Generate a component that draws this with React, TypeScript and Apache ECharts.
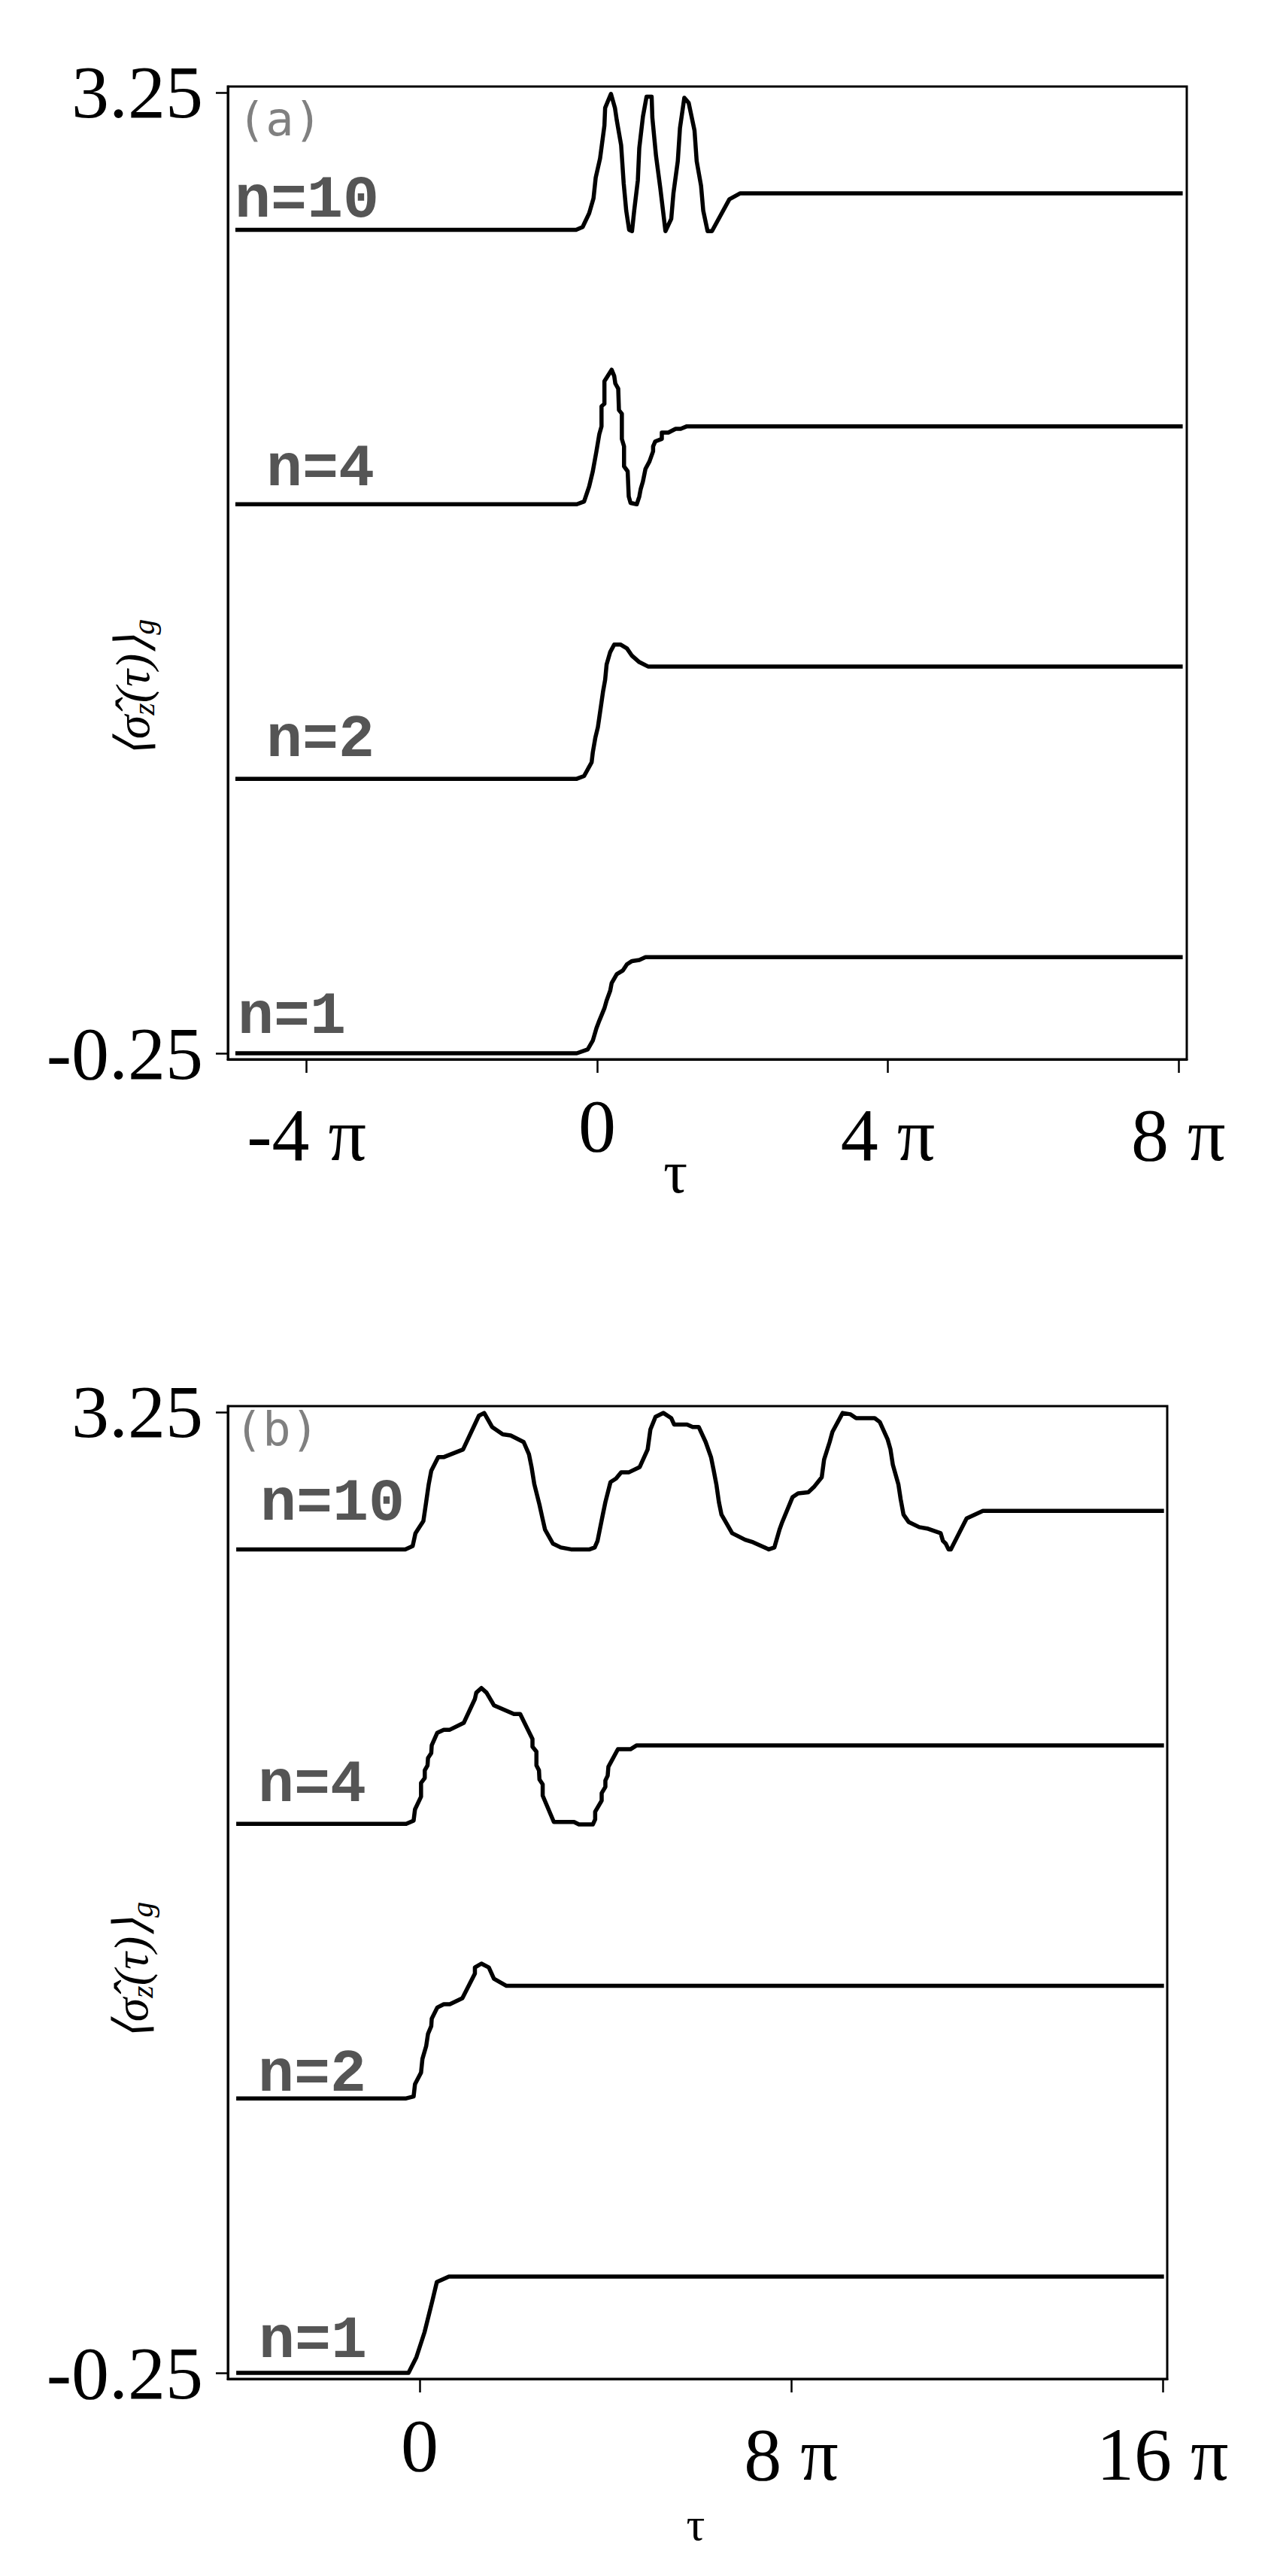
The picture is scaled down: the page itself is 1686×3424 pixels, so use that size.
import React, { useEffect, useRef } from 'react';
import * as echarts from 'echarts';

// ---- tick values / labels ----
const aXTicks = [-4, 0, 4, 8];
const aXLabels = ['-4 π', '0', '4 π', '8 π'];
const bXTicks = [0, 8, 16];
const bXLabels = ['0', '8 π', '16 π'];
const yTicks = [-0.25, 3.25];
const yLabels = ['-0.25', '3.25'];
const curveNames = ['n=10', 'n=4', 'n=2', 'n=1'];
const panelTags = ['(a)', '(b)'];
const xName = 'τ';

// ---- panel (a) series: [tau/pi, value] ----
const aN10: [number, number][] = [
  [-4.98, 2.75], [-0.29, 2.75], [-0.2, 2.76], [-0.11, 2.81], [-0.05, 2.865], [-0.02, 2.94], [0.04, 3.01],
  [0.1, 3.13], [0.11, 3.194], [0.19, 3.245], [0.245, 3.194], [0.27, 3.149], [0.33, 3.058], [0.365, 2.92],
  [0.4, 2.82], [0.44, 2.75], [0.48, 2.745], [0.51, 2.82], [0.56, 2.93], [0.58, 3.048], [0.63, 3.162],
  [0.68, 3.235], [0.75, 3.235], [0.76, 3.158], [0.81, 3.02], [0.87, 2.9], [0.92, 2.79], [0.94, 2.745],
  [1.02, 2.79], [1.05, 2.883], [1.11, 3.0], [1.14, 3.121], [1.2, 3.231], [1.26, 3.212], [1.34, 3.112],
  [1.37, 3.0], [1.43, 2.911], [1.46, 2.82], [1.52, 2.745], [1.58, 2.745], [1.82, 2.861], [1.97, 2.883],
  [8.06, 2.883],
];
const aN4: [number, number][] = [
  [-4.98, 1.75], [-0.28, 1.75], [-0.18, 1.76], [-0.11, 1.815], [-0.06, 1.87], [-0.01, 1.943], [0.03, 2.006],
  [0.06, 2.034], [0.06, 2.107], [0.1, 2.116], [0.1, 2.198], [0.2, 2.24], [0.235, 2.217], [0.25, 2.19],
  [0.29, 2.171], [0.3, 2.093], [0.34, 2.08], [0.34, 1.988], [0.37, 1.961], [0.37, 1.888], [0.42, 1.87],
  [0.435, 1.778], [0.46, 1.755], [0.545, 1.75], [0.58, 1.778], [0.6, 1.806], [0.63, 1.833], [0.665, 1.879],
  [0.72, 1.906], [0.77, 1.943], [0.77, 1.961], [0.8, 1.979], [0.89, 1.988], [0.89, 2.011], [0.98, 2.011],
  [1.08, 2.025], [1.15, 2.025], [1.235, 2.034], [8.06, 2.034],
];
const aN2: [number, number][] = [
  [-4.98, 0.75], [-0.28, 0.75], [-0.18, 0.76], [-0.076, 0.81], [-0.06, 0.846], [-0.024, 0.901], [0.01, 0.938],
  [0.03, 0.974], [0.06, 1.029], [0.08, 1.066], [0.11, 1.111], [0.13, 1.166], [0.18, 1.212], [0.235, 1.239],
  [0.32, 1.239], [0.41, 1.225], [0.48, 1.198], [0.58, 1.175], [0.7, 1.159], [8.06, 1.159],
];
const aN1: [number, number][] = [
  [-4.98, -0.25], [-0.28, -0.25], [-0.13, -0.236], [-0.06, -0.204], [-0.01, -0.159], [0.03, -0.131],
  [0.1, -0.086], [0.13, -0.058], [0.18, -0.022], [0.2, 0.006], [0.27, 0.038], [0.355, 0.052], [0.41, 0.074],
  [0.48, 0.086], [0.58, 0.09], [0.665, 0.1], [8.06, 0.1],
];

// ---- panel (b) series ----
const bN10: [number, number][] = [
  [-3.95, 2.75], [-0.31, 2.75], [-0.15, 2.762], [-0.09, 2.809], [0.08, 2.853], [0.14, 2.922], [0.195, 2.987],
  [0.25, 3.036], [0.4, 3.086], [0.515, 3.086], [0.935, 3.114], [1.276, 3.237], [1.39, 3.247], [1.56, 3.196],
  [1.79, 3.169], [1.96, 3.165], [2.24, 3.141], [2.355, 3.096], [2.41, 3.05], [2.47, 2.987], [2.58, 2.913],
  [2.64, 2.867], [2.7, 2.822], [2.87, 2.771], [3.04, 2.757], [3.26, 2.75], [3.66, 2.75], [3.77, 2.757],
  [3.83, 2.78], [3.945, 2.877], [4.0, 2.922], [4.11, 2.995], [4.23, 3.008], [4.34, 3.031], [4.51, 3.031],
  [4.74, 3.05], [4.91, 3.114], [4.97, 3.187], [5.08, 3.233], [5.25, 3.247], [5.42, 3.228], [5.48, 3.205],
  [5.76, 3.205], [5.88, 3.196], [6.01, 3.196], [6.16, 3.141], [6.275, 3.086], [6.33, 3.04], [6.39, 2.987],
  [6.445, 2.922], [6.5, 2.877], [6.73, 2.809], [7.01, 2.785], [7.18, 2.776], [7.52, 2.75], [7.64, 2.757],
  [7.75, 2.822], [7.81, 2.85], [8.03, 2.94], [8.15, 2.954], [8.37, 2.958], [8.49, 2.977], [8.66, 3.013],
  [8.71, 3.077], [8.83, 3.141], [8.89, 3.178], [9.11, 3.247], [9.28, 3.242], [9.4, 3.228], [9.8, 3.228],
  [9.91, 3.214], [10.08, 3.15], [10.14, 3.114], [10.19, 3.059], [10.31, 2.987], [10.36, 2.932], [10.42, 2.877],
  [10.53, 2.85], [10.76, 2.831], [10.93, 2.826], [11.22, 2.809], [11.27, 2.781], [11.33, 2.771], [11.39, 2.75],
  [11.44, 2.75], [11.78, 2.863], [12.13, 2.89], [16.03, 2.89],
];
const bN4: [number, number][] = [
  [-3.95, 1.75], [-0.29, 1.75], [-0.13, 1.762], [-0.1, 1.803], [0.03, 1.849], [0.03, 1.899], [0.11, 1.917],
  [0.11, 1.945], [0.17, 1.963], [0.18, 1.99], [0.25, 2.008], [0.26, 2.036], [0.38, 2.082], [0.52, 2.093],
  [0.65, 2.093], [0.95, 2.118], [1.19, 2.205], [1.22, 2.228], [1.33, 2.245], [1.44, 2.228], [1.6, 2.182],
  [2.03, 2.15], [2.165, 2.15], [2.43, 2.059], [2.43, 2.031], [2.515, 2.013], [2.515, 1.963], [2.57, 1.945],
  [2.58, 1.912], [2.65, 1.894], [2.65, 1.853], [2.89, 1.757], [3.325, 1.757], [3.43, 1.748], [3.73, 1.748],
  [3.78, 1.766], [3.78, 1.794], [3.92, 1.835], [3.92, 1.862], [4.0, 1.885], [4.0, 1.908], [4.05, 1.926],
  [4.065, 1.958], [4.27, 2.022], [4.54, 2.022], [4.675, 2.036], [16.03, 2.036],
];
const bN2: [number, number][] = [
  [-3.95, 0.75], [-0.29, 0.75], [-0.13, 0.757], [-0.1, 0.802], [0.03, 0.844], [0.06, 0.894], [0.14, 0.94],
  [0.18, 0.985], [0.25, 1.013], [0.26, 1.04], [0.38, 1.081], [0.52, 1.093], [0.65, 1.093], [0.92, 1.115],
  [1.19, 1.205], [1.19, 1.227], [1.33, 1.241], [1.49, 1.227], [1.6, 1.186], [1.87, 1.16], [16.03, 1.16],
];
const bN1: [number, number][] = [
  [-3.95, -0.25], [-0.24, -0.25], [-0.07, -0.193], [0.105, -0.102], [0.28, 0.017], [0.37, 0.081],
  [0.63, 0.101], [16.03, 0.101],
];

const SERIF = 'Liberation Serif';
const MONO = 'Liberation Mono';

function pick(ticks: number[], labels: string[], v: number) {
  const i = ticks.findIndex((t) => Math.abs(t - v) < 1e-6);
  return i >= 0 ? labels[i] : '';
}

function xAxisFor(grid: number, min: number, max: number, ticks: number[], labels: string[]) {
  return {
    gridIndex: grid,
    type: 'value',
    min,
    max,
    axisLine: { show: true, onZero: false, lineStyle: { color: '#000', width: 3 } },
    axisTick: { show: true, customValues: ticks, length: 18, inside: false, lineStyle: { color: '#000', width: 2.5 } },
    axisLabel: {
      show: true,
      customValues: ticks,
      margin: 38,
      formatter: (v: number) => {
        const s = pick(ticks, labels, v);
        return s === '0' ? `{z|${s}}` : `{p|${s}}`;
      },
      rich: {
        z: { fontSize: 100, fontFamily: SERIF, color: '#000' },
        p: { fontSize: 100, fontFamily: SERIF, color: '#000', padding: [12, 0, 0, 0] },
      },
    },
    splitLine: { show: false },
  };
}

function yAxisFor(grid: number) {
  return {
    gridIndex: grid,
    type: 'value',
    min: -0.2719,
    max: 3.2719,
    axisLine: { show: true, onZero: false, lineStyle: { color: '#000', width: 3 } },
    axisTick: { show: true, customValues: yTicks, length: 16, lineStyle: { color: '#000', width: 2.5 } },
    axisLabel: {
      show: true,
      customValues: yTicks,
      margin: 33,
      fontSize: 100,
      fontFamily: SERIF,
      color: '#000',
      formatter: (v: number) => pick(yTicks, yLabels, v),
    },
    splitLine: { show: false },
  };
}

function lineSeries(data: [number, number][], axis: number) {
  return {
    type: 'line',
    xAxisIndex: axis,
    yAxisIndex: axis,
    data,
    showSymbol: false,
    symbol: 'none',
    smooth: false,
    lineStyle: { color: '#000', width: 5.5, join: 'round' },
    z: 3,
  };
}

function label(text: string, x: number, y: number) {
  return {
    type: 'text',
    x,
    y,
    z: 10,
    style: {
      text,
      fontSize: 80,
      fontFamily: MONO,
      fontWeight: 'bold',
      fill: '#555',
      align: 'left',
      verticalAlign: 'middle',
      textAlign: 'left',
      textVerticalAlign: 'middle',
    },
  };
}

function tag(text: string, x: number, y: number) {
  return {
    type: 'text',
    x,
    y,
    z: 10,
    style: {
      text,
      fontSize: 62,
      fontFamily: 'DejaVu Sans Mono',
      fill: '#808080',
      align: 'left',
      verticalAlign: 'middle',
      textAlign: 'left',
      textVerticalAlign: 'middle',
    },
  };
}

function yName(x: number, y: number) {
  return {
    type: 'text',
    x,
    y,
    rotation: Math.PI / 2,
    z: 10,
    style: {
      text: '{m|⟨σ̂}{s|z}{m|(τ)⟩}{s|g}',
      align: 'center',
      verticalAlign: 'middle',
      textAlign: 'center',
      textVerticalAlign: 'middle',
      fill: '#000',
      rich: {
        m: { fontSize: 64, fontFamily: SERIF, fontStyle: 'italic', fill: '#000', color: '#000' },
        s: { fontSize: 42, fontFamily: SERIF, fontStyle: 'italic', fill: '#000', color: '#000', padding: [30, 0, 0, 0] },
      },
    },
  };
}

function tau(x: number, y: number, size: number) {
  return {
    type: 'text',
    x,
    y,
    z: 10,
    style: {
      text: xName,
      fontSize: size,
      fontFamily: SERIF,
      fill: '#000',
      align: 'center',
      verticalAlign: 'middle',
      textAlign: 'center',
      textVerticalAlign: 'middle',
    },
  };
}

export default function App() {
  const ref = useRef<HTMLDivElement>(null);
  useEffect(() => {
    if (!ref.current) return;
    const chart = echarts.init(ref.current, undefined, { renderer: 'svg' });
    const option: any = {
      animation: false,
      backgroundColor: '#fff',
      grid: [
        { left: 303, top: 115, width: 1275, height: 1293, show: true, borderColor: '#000', borderWidth: 3, backgroundColor: 'transparent' },
        { left: 303, top: 1869, width: 1249, height: 1293, show: true, borderColor: '#000', borderWidth: 3, backgroundColor: 'transparent' },
      ],
      xAxis: [
        xAxisFor(0, -5.083, 8.116, aXTicks, aXLabels),
        xAxisFor(1, -4.13, 16.1, bXTicks, bXLabels),
      ],
      yAxis: [yAxisFor(0), yAxisFor(1)],
      series: [
        lineSeries(aN10, 0), lineSeries(aN4, 0), lineSeries(aN2, 0), lineSeries(aN1, 0),
        lineSeries(bN10, 1), lineSeries(bN4, 1), lineSeries(bN2, 1), lineSeries(bN1, 1),
      ],
      graphic: [
        tag(panelTags[0], 316, 158),
        label(curveNames[0], 312, 266),
        label(curveNames[1], 354, 623),
        label(curveNames[2], 354, 983),
        label(curveNames[3], 316, 1351),
        yName(176, 915),
        tau(898, 1558, 80),
        tag(panelTags[1], 312, 1899),
        label(curveNames[0], 346, 1998),
        label(curveNames[1], 343, 2372),
        label(curveNames[2], 343, 2757),
        label(curveNames[3], 344, 3111),
        yName(174, 2620),
        tau(925, 3355, 62),
      ],
    };
    chart.setOption(option);
    return () => chart.dispose();
  }, []);
  return <div ref={ref} style={{ position: 'absolute', left: 0, top: 0, width: 1686, height: 3424 }} />;
}
